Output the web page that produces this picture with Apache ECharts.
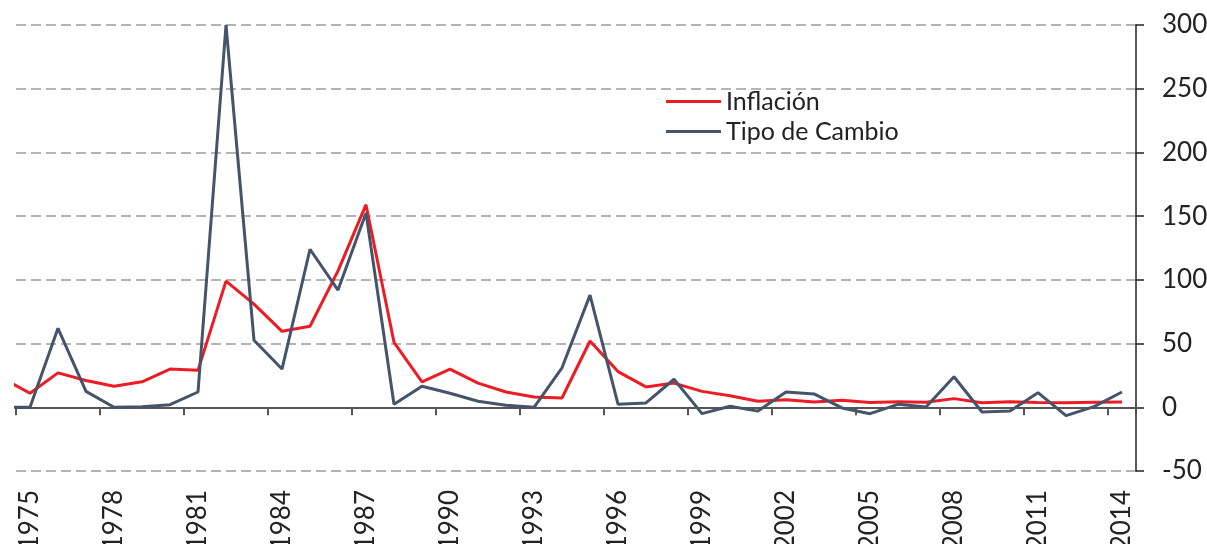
<!DOCTYPE html>
<html>
<head>
<meta charset="utf-8">
<script src="https://cdn.jsdelivr.net/npm/echarts@6/dist/echarts.min.js"></script>
<style>
  html, body {margin: 0; padding: 0; background: #fff;}
  #chart {width: 1207px; height: 544px;}
</style>
</head>
<body>
<div id="chart"></div>
<script>
// años (1974 sólo sirve para el tramo inicial recortado)
const years = [1974, 1975, 1976, 1977, 1978, 1979, 1980, 1981, 1982, 1983, 1984,
  1985, 1986, 1987, 1988, 1989, 1990, 1991, 1992, 1993, 1994,
  1995, 1996, 1997, 1998, 1999, 2000, 2001, 2002, 2003, 2004,
  2005, 2006, 2007, 2008, 2009, 2010, 2011, 2012, 2013, 2014];
const inflacion = [23, 11, 27, 21, 16.5, 20, 30, 29, 99, 81, 59.6,
  63.6, 107, 159, 51, 20, 30, 19, 12, 8, 7.3,
  52, 28, 16, 19, 12.5, 9, 4.7, 6, 4.2, 5.5,
  3.7, 4.4, 4, 6.8, 3.6, 4.4, 3.8, 3.6, 4, 4.1];
const tipoCambio = [0, 0, 62, 12.5, 0, 0.5, 2, 12, 300, 52.6, 30,
  124, 92, 152.5, 2.4, 16.5, 11, 4.7, 1.6, 0, 31,
  88, 2.4, 3.4, 22, -5, 0.8, -3, 12, 10.5, -0.5,
  -5, 2.3, 0.3, 24, -3.7, -3, 11.5, -6.5, 0.5, 12];
const yTicks = {min: -50, max: 300, step: 50};

const labelYears = years.slice(1).map(String);
const font = 'Lato, "Open Sans", sans-serif';

let chart = echarts.init(document.getElementById('chart'));

function pairs(values) {
  return values.map((v, i) => [years[i], v]);
}

chart.setOption({
  animation: false,
  backgroundColor: '#fff',
  grid: {left: 16, right: 71, top: 25, bottom: 73, containLabel: false, outerBoundsMode: 'none'},
  legend: {
    data: ['Inflación', 'Tipo de Cambio'],
    orient: 'vertical',
    left: 666,
    top: 89,
    padding: 0,
    icon: 'rect',
    itemWidth: 55,
    itemHeight: 3,
    itemGap: 5,
    textStyle: {fontFamily: font, fontSize: 25, color: '#222', lineHeight: 25}
  },
  xAxis: [
    {
      // línea del cero con marcas cada 3 años
      type: 'category',
      data: labelYears,
      boundaryGap: true,
      axisLine: {onZero: true, lineStyle: {color: '#555', width: 2}},
      axisTick: {show: true, length: 8, interval: (i) => i % 3 === 0, lineStyle: {color: '#555', width: 2}},
      axisLabel: {show: false},
      splitLine: {show: false}
    },
    {
      // etiquetas abajo
      type: 'category',
      data: labelYears,
      boundaryGap: true,
      position: 'bottom',
      axisLine: {show: false, onZero: false},
      axisTick: {show: false},
      axisLabel: {
        interval: (i) => i % 3 === 0,
        rotate: 90,
        margin: 19,
        fontFamily: font,
        fontSize: 26,
        color: '#222'
      },
      splitLine: {show: false}
    },
    {
      // eje numérico oculto para trazar las series
      type: 'value',
      min: 1974.5,
      max: 2014.5,
      show: false
    }
  ],
  yAxis: {
    type: 'value',
    position: 'right',
    min: yTicks.min,
    max: yTicks.max,
    interval: yTicks.step,
    axisLine: {show: true, onZero: false, lineStyle: {color: '#222', width: 1.5}},
    axisTick: {show: true, length: 8, lineStyle: {color: '#222', width: 1.5}},
    axisLabel: {margin: 26, fontFamily: font, fontSize: 26, color: '#222'},
    splitLine: {show: true, lineStyle: {color: '#b4b4b4', width: 2, type: [10, 5]}}
  },
  series: [
    {
      name: 'Inflación',
      type: 'line',
      xAxisIndex: 2,
      data: pairs(inflacion),
      symbol: 'none',
      clip: true,
      lineStyle: {color: '#ed1c24', width: 3},
      itemStyle: {color: '#ed1c24'},
      z: 3
    },
    {
      name: 'Tipo de Cambio',
      type: 'line',
      xAxisIndex: 2,
      data: pairs(tipoCambio),
      symbol: 'none',
      clip: true,
      lineStyle: {color: '#44546a', width: 3},
      itemStyle: {color: '#44546a'},
      z: 4
    }
  ]
});
</script>
</body>
</html>
